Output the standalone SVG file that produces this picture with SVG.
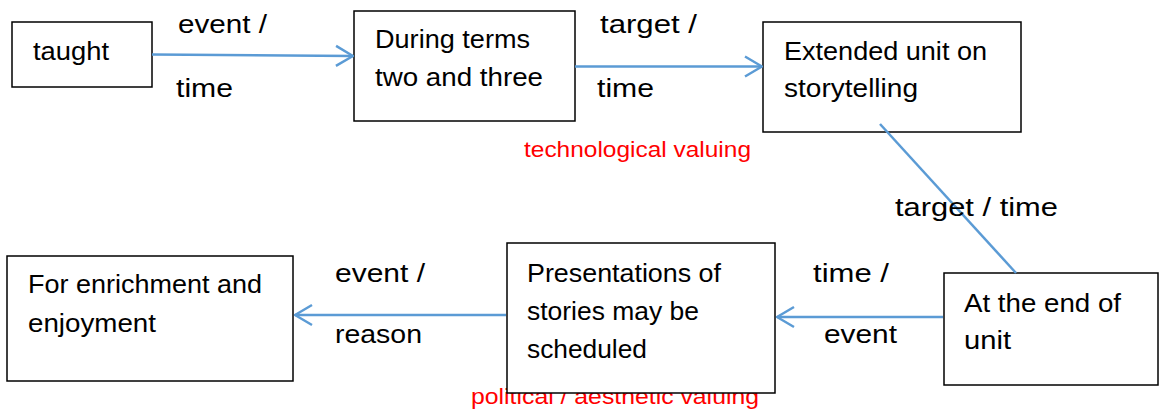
<svg xmlns="http://www.w3.org/2000/svg" width="1160" height="410" viewBox="0 0 1160 410">
<style>
.box{fill:#fff;stroke:#000;stroke-width:1.5}
.t{font-family:"Liberation Sans",Arial,sans-serif;font-size:25px;fill:#000}
.r{font-family:"Liberation Sans",Arial,sans-serif;font-size:22px;fill:#ff0000}
.c{fill:none;stroke:#5B9BD5;stroke-width:2.5}
</style>
<defs>
<marker id="arr" viewBox="0 0 20 24" refX="19" refY="12" markerWidth="20" markerHeight="24" markerUnits="userSpaceOnUse" orient="auto">
<path d="M2,2 L19,12 L2,22" fill="none" stroke="#5B9BD5" stroke-width="2.5"/>
</marker>
</defs>
<rect width="1160" height="410" fill="#fff"/>
<text class="r" x="471" y="404" textLength="288" lengthAdjust="spacingAndGlyphs">political / aesthetic valuing</text>
<g id="n1">
<rect class="box" x="12" y="22" width="140" height="65"/>
<text class="t" x="33" y="60" textLength="76" lengthAdjust="spacingAndGlyphs">taught</text>
</g>
<g id="n2">
<rect class="box" x="354" y="11" width="221" height="110"/>
<text class="t" x="375" y="48" textLength="155" lengthAdjust="spacingAndGlyphs">During terms</text>
<text class="t" x="375" y="86" textLength="168" lengthAdjust="spacingAndGlyphs">two and three</text>
</g>
<g id="n3">
<rect class="box" x="763" y="22" width="258" height="110"/>
<text class="t" x="784" y="60" textLength="203" lengthAdjust="spacingAndGlyphs">Extended unit on</text>
<text class="t" x="784" y="97" textLength="134" lengthAdjust="spacingAndGlyphs">storytelling</text>
</g>
<g id="n4">
<rect class="box" x="944" y="273" width="214" height="112"/>
<text class="t" x="964" y="312" textLength="157" lengthAdjust="spacingAndGlyphs">At the end of</text>
<text class="t" x="964" y="349" textLength="47" lengthAdjust="spacingAndGlyphs">unit</text>
</g>
<g id="n5">
<rect class="box" x="507" y="243" width="268" height="150"/>
<text class="t" x="527" y="282" textLength="194" lengthAdjust="spacingAndGlyphs">Presentations of</text>
<text class="t" x="527" y="320" textLength="172" lengthAdjust="spacingAndGlyphs">stories may be</text>
<text class="t" x="527" y="358" textLength="120" lengthAdjust="spacingAndGlyphs">scheduled</text>
</g>
<g id="n6">
<rect class="box" x="7" y="256" width="286" height="125"/>
<text class="t" x="28" y="293" textLength="234" lengthAdjust="spacingAndGlyphs">For enrichment and</text>
<text class="t" x="28" y="332" textLength="128" lengthAdjust="spacingAndGlyphs">enjoyment</text>
</g>
<g id="connectors">
<line class="c" x1="152" y1="54.5" x2="353" y2="56" marker-end="url(#arr)"/>
<line class="c" x1="575" y1="66.5" x2="762" y2="66.5" marker-end="url(#arr)"/>
<line class="c" x1="880" y1="124" x2="1016" y2="273"/>
<line class="c" x1="943" y1="317" x2="777" y2="317" marker-end="url(#arr)"/>
<line class="c" x1="506" y1="315" x2="295" y2="315" marker-end="url(#arr)"/>
</g>
<g id="labels">
<text class="t" x="178" y="33" textLength="89" lengthAdjust="spacingAndGlyphs">event /</text>
<text class="t" x="176" y="97" textLength="57" lengthAdjust="spacingAndGlyphs">time</text>
<text class="t" x="600" y="33" textLength="97" lengthAdjust="spacingAndGlyphs">target /</text>
<text class="t" x="597" y="97" textLength="57" lengthAdjust="spacingAndGlyphs">time</text>
<text class="r" x="524" y="157" textLength="227" lengthAdjust="spacingAndGlyphs">technological valuing</text>
<text class="t" x="895" y="216" textLength="163" lengthAdjust="spacingAndGlyphs">target / time</text>
<text class="t" x="813" y="282" textLength="76" lengthAdjust="spacingAndGlyphs">time /</text>
<text class="t" x="824" y="343" textLength="73" lengthAdjust="spacingAndGlyphs">event</text>
<text class="t" x="335" y="282" textLength="90" lengthAdjust="spacingAndGlyphs">event /</text>
<text class="t" x="335" y="343" textLength="87" lengthAdjust="spacingAndGlyphs">reason</text>
</g>
</svg>
